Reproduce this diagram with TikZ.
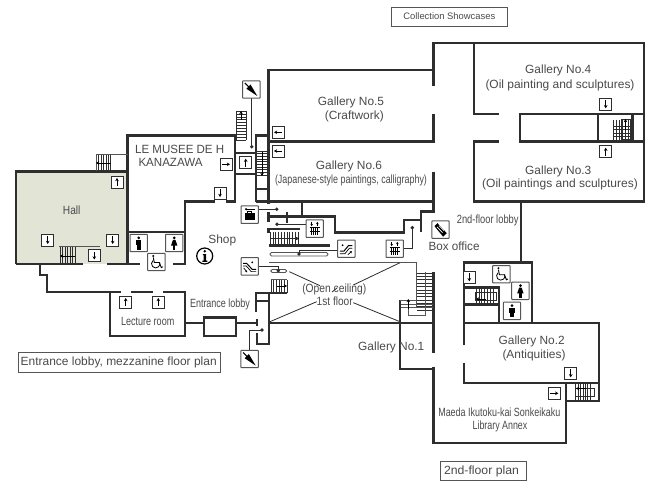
\documentclass[tikz,border=0pt]{standalone}
\usepackage{fontspec}
\setmainfont{Liberation Sans}
\usetikzlibrary{arrows.meta}
\definecolor{wallc}{HTML}{2E2E2E}
\definecolor{txtc}{HTML}{4A4A4A}
\definecolor{hallc}{HTML}{E2E4D6}
\definecolor{thinc}{HTML}{555555}
\newcommand\fitto[2]{\setbox0=\hbox{#2}\pgfmathsetmacro\fitr{#1/\the\wd0}\scalebox{\fitr}[1]{#2}}
\tikzset{
  wall/.style={draw=wallc,line width=2.4pt,line join=miter},
  thinl/.style={draw=thinc,line width=0.9pt},
  conn/.style={draw=wallc,line width=0.8pt},
  rung/.style={draw=wallc,line width=0.55pt},
  lbl/.style={text=txtc,font=\fontsize{11.9}{13}\selectfont,inner sep=0pt},
  ibox/.style={draw=thinc,line width=1pt,rounded corners=0.6pt,fill=white},
  abx/.style={draw=wallc,line width=0.9pt,fill=white},
  arr/.style={draw=black,line width=0.9pt,-{Stealth[length=3.2pt,width=3.6pt]}},
  plan/.style={draw=thinc,line width=0.7pt,fill=white},
  dotc/.style={fill=wallc,draw=none}
}
\newcommand\abox[4]{\draw[abx] ({#1-6},{#2-6}) rectangle ({#1+6},{#2+6});
  \draw[arr] ({#1-4*#3},{#2-4*#4}) -- ({#1+4*#3},{#2+4*#4});}
\newcommand\icon[2]{\draw[ibox] ({#1-8.7},{#2-8.7}) rectangle ({#1+8.7},{#2+8.7});}
\newcommand\man[2]{\icon{#1}{#2}\fill[black] (#1,{#2-5.2}) circle (1.5pt);
  \fill[black] ({#1-2.6},{#2-3}) rectangle ({#1+2.6},{#2+2}); \fill[black] ({#1-1.8},{#2+2}) rectangle ({#1+1.8},{#2+6.5});}
\newcommand\woman[2]{\icon{#1}{#2}\fill[black] (#1,{#2-5.2}) circle (1.5pt);
  \fill[black] ({#1-1.2},{#2-3.2}) -- ({#1+1.2},{#2-3.2}) -- ({#1+3.2},{#2+2.5}) -- ({#1-3.2},{#2+2.5}) -- cycle;
  \fill[black] ({#1-1.2},{#2+2}) rectangle ({#1+1.2},{#2+6.8});}
\newcommand\wheel[2]{\icon{#1}{#2}\fill[black] ({#1-3},{#2-6}) circle (1.1pt);
  \draw[black,line width=0.9pt] ({#1-3},{#2-4.5}) -- ({#1-2},{#2+0.5}) -- ({#1+3},{#2+0.5}) -- ({#1+5},{#2+5.5}) -- ({#1+6.5},{#2+4.8});
  \draw[black,line width=0.8pt] ({#1-3.3},{#2-1.5}) arc[start angle=130,end angle=380,radius=4.2pt];}
\newcommand\umb[2]{\icon{#1}{#2}\fill[black] ({#1-5},{#2-0.8}) -- ({#1-0.8},{#2-5}) -- ({#1+6},{#2+6.5}) -- cycle;
  \draw[black,line width=1pt] ({#1-6.5},{#2-6.5}) -- ({#1-2.5},{#2-2.5});}
\newcommand\ticket[2]{\icon{#1}{#2}\fill[black] ({#1-6},{#2-3.5}) -- ({#1-3},{#2-6.5}) -- ({#1+6.3},{#2+3.5}) -- ({#1+2.6},{#2+7}) -- cycle;
  \draw[white,line width=0.7pt] ({#1-3.5},{#2-2.8}) -- ({#1+2},{#2+3});
  \draw[white,line width=0.7pt] ({#1-1.5},{#2-4}) -- ({#1+3.5},{#2+1});}
\newcommand\elev[2]{\icon{#1}{#2}\foreach \i in {-3.2,-1.1,1.1,3.2}{\draw[black,line width=0.9pt] ({#1+\i},{#2-0.8}) -- ({#1+\i},{#2+6});}
  \draw[black,line width=0.6pt] ({#1-5},{#2-1.2}) -- ({#1+5},{#2-1.2});
  \draw[black,line width=0.6pt] ({#1-5},{#2+2.5}) -- ({#1+5},{#2+2.5});
  \draw[black,line width=0.6pt,-{Stealth[length=2.2pt,width=2.6pt]}] ({#1-3},{#2-6.8}) -- ({#1-3},{#2-2.6});
  \draw[black,line width=0.6pt,-{Stealth[length=2.2pt,width=2.6pt]}] ({#1+2.6},{#2-2.6}) -- ({#1+2.6},{#2-6.8});}
\newcommand\locker[2]{\icon{#1}{#2}\fill[black] ({#1-5},{#2-1.5}) rectangle ({#1+5},{#2+5.8});
  \draw[black,line width=0.8pt] ({#1-2},{#2-1.5}) -- ({#1-2},{#2-3}) -- ({#1+2},{#2-3}) -- ({#1+2},{#2-1.5});
  \draw[black,line width=0.8pt,-{Stealth[length=2.2pt,width=2.6pt]}] ({#1+5},{#2-5.6}) -- ({#1-5},{#2-5.6});}
\newcommand\escup[2]{\icon{#1}{#2}\draw[black,line width=1pt] ({#1-6.5},{#2+2.5}) -- ({#1-2.5},{#2+2.5}) -- ({#1+2},{#2-3}) -- ({#1+6},{#2-3});
  \draw[black,line width=0.7pt] ({#1-6.5},{#2+5}) -- ({#1-1.5},{#2+5}) -- ({#1+3},{#2-0.5}) -- ({#1+6},{#2-0.5});
  \draw[black,line width=0.7pt,-{Stealth[length=2.2pt,width=2.6pt]}] ({#1+1.5},{#2+6}) -- ({#1+5.5},{#2+2.5});
  \fill[black] ({#1-3.8},{#2-3.5}) circle (1pt);}
\newcommand\escdn[2]{\icon{#1}{#2}\draw[black,line width=1pt] ({#1-6.5},{#2-3}) -- ({#1-3},{#2-3}) -- ({#1+2.5},{#2+3}) -- ({#1+6.5},{#2+3});
  \draw[black,line width=0.7pt] ({#1-6.5},{#2-0.5}) -- ({#1-3.5},{#2-0.5}) -- ({#1+1.5},{#2+5.2}) -- ({#1+6.5},{#2+5.2});
  \draw[black,line width=0.7pt,-{Stealth[length=2.2pt,width=2.6pt]}] ({#1-6},{#2+1.5}) -- ({#1-2.5},{#2+6});
  \fill[black] ({#1+2.5},{#2-4}) circle (1pt);}
\newcommand\hrungs[5]{\foreach \i in {0,...,#5}{\draw[rung] ({#1},{#3+\i*(#4-#3)/#5}) -- ({#2},{#3+\i*(#4-#3)/#5});}}
\newcommand\vrungs[5]{\foreach \i in {0,...,#5}{\draw[rung] ({#1+\i*(#2-#1)/#5},{#3}) -- ({#1+\i*(#2-#1)/#5},{#4});}}
\begin{document}
\begin{tikzpicture}[x=1pt,y=-1pt]
\useasboundingbox (0,0) rectangle (653,481);
\fill[white] (0,0) rectangle (653,481);
% hall
\fill[hallc] (16,171.5) rectangle (127.5,264);
% walls
\draw[wall] (16,264) -- (16,171.5) -- (127.5,171.5);
\draw[wall] (16,264) -- (83,264);
\draw[wall] (107,264) -- (140,264);
\draw[wall] (127.5,264) -- (127.5,135.7) -- (235,135.7) -- (235,201.7) -- (226,201.7);
\draw[wall] (215,201.7) -- (185,201.7) -- (185,264) -- (173,264);
\draw[wall] (127.5,232) -- (185,232);
\draw[wall] (40,264) -- (40,275) -- (47,275) -- (47,292) -- (120.7,292);
\draw[wall] (130.7,292) -- (152.7,292);
\draw[wall] (110,292) -- (110,335.7) -- (185,335.7) -- (185,292) -- (162.7,292);
\draw[wall] (185,322.7) -- (204,322.7);
\draw[wall] (204,317.3) rectangle (235.7,335.7);
\draw[wall] (235.7,322.7) -- (256.7,322.7);
\draw[wall] (256.7,319) -- (256.7,326);
\draw[wall] (256,311.7) -- (256,292.7) -- (287,292.7);
\draw[wall] (256,301) -- (269,301);
\draw[wall] (269,292.7) -- (269,344) -- (256.7,344) -- (256.7,333);
\draw[wall] (235,153.3) -- (256,153.3);
\draw[wall] (235,174.3) -- (256,174.3);
\draw[wall] (268.3,135.7) -- (256,135.7) -- (256,201.7);
\draw[wall] (256,189) -- (268.3,189);
% galleries 5,6
\draw[wall] (268.3,204.5) -- (268.3,70) -- (433.3,70);
\draw[wall] (256,201.7) -- (433.3,201.7);
\draw[wall] (268.3,141.5) -- (433.3,141.5) -- (433.3,114);
\draw[wall] (433.3,86) -- (433.3,43.3) -- (644,43.3) -- (644,201.7) -- (474,201.7) -- (474,141.7) -- (499,141.7);
\draw[wall] (474,43.3) -- (474,114) -- (499,114);
\draw[wall] (644,114) -- (520,114) -- (520,141.7) -- (644,141.7);
\draw[wall] (598,114) -- (598,141.7);
\draw[wall] (632.3,114) -- (632.3,141.7);
\draw[wall] (520.7,201.7) -- (520.7,262.3);
\draw[wall] (433.3,171.7) -- (433.3,211.7) -- (420.7,211.7) -- (420.7,231.7);
\draw[wall] (420.7,220) -- (404,220) -- (404,232.5) -- (335,232.5) -- (335,216.7) -- (268.3,216.7);
\draw[wall] (301.7,201.7) -- (301.7,216.7);
\draw[wall] (268.3,211.7) -- (268.3,221.7);
\draw[wall] (287,212) -- (287,223);
\draw[wall] (268.3,233) -- (268.3,229) -- (300,229);
\draw[wall] (268.7,245.5) -- (330,245.5);
% main lower
\draw[wall] (269,322.7) -- (433.3,322.7);
\draw[wall] (400,300) -- (400,369) -- (433.3,369);
\draw[wall] (433.3,272) -- (433.3,352.7);
\draw[wall] (433.3,366.7) -- (433.3,443) -- (565.7,443) -- (565.7,383);
\draw[wall] (464,345) -- (464,262.3) -- (532,262.3) -- (532,322.7);
\draw[wall] (464,322.7) -- (599,322.7) -- (599,401) -- (565.7,401);
\draw[wall] (464,362.7) -- (464,383) -- (599,383);
\draw[wall] (464,287.3) -- (499,287.3) -- (499,322.7);
\draw[wall] (464,304.3) -- (499,304.3);
% open ceiling
\draw[thinl] (269,262.7) -- (416.7,262.7) -- (416.7,308);
\draw[conn] (400,262.7) -- (353.3,285);
\draw[conn] (316.7,301.7) -- (270,321.7);
\draw[conn] (289.3,271.7) -- (320,285.7);
\draw[conn] (353.3,302.7) -- (400,321.7);
\draw[conn] (337,288) -- (332,292);
% right stair
\hrungs{416.7}{433.3}{273}{310}{11}
\draw[thinl] (425.7,272) -- (425.7,315) -- (408.3,315) -- (408.3,300);
\draw[thinl] (400,300) -- (416.7,300);
\draw[thinl] (401,304.3) -- (433.3,304.3);
\draw[thinl] (401,307.7) -- (433.3,307.7);
\draw[arr,line width=0.7pt] (408.3,309) -- (408.3,299);
% stairs
\vrungs{96}{110.7}{154.3}{171}{6}
\draw[thinl] (96,154.3) -- (127.5,154.3);
\draw[thinl] (96,154.3) -- (96,171);
\draw[arr,line width=0.7pt] (110.7,163) -- (96,163);
\vrungs{60}{75}{247}{263}{6}
\draw[thinl,line width=1.2pt] (59.3,246.7) -- (100,246.7);
\draw[arr,line width=0.7pt] (75,256) -- (60,256);
\hrungs{236}{246}{111}{140}{10}
\draw[rung] (236,111) -- (236,140);
\draw[rung] (246,111) -- (246,140);
\draw[arr,line width=0.7pt] (241,120) -- (241,111);
\hrungs{256.7}{268}{151}{175}{9}
\draw[arr,line width=0.7pt] (262,152) -- (262,176);
\vrungs{270}{298}{232}{245}{10}
\draw[arr,line width=0.7pt] (285,238.5) -- (299,238.5);
\draw[rung] (270,238.5) -- (298,238.5);
\vrungs{271}{287}{280}{292.7}{6}
\draw[thinl] (270.7,279.3) -- (287.3,279.3);
\draw[arr,line width=0.7pt] (277,286) -- (287,286);
\vrungs{613}{631}{120}{140}{6}
\hrungs{613}{631}{126}{140}{4}
\draw[rung] (621.7,119) rectangle (630,139.5);
\draw[arr,line width=0.7pt] (625.5,130) -- (625.5,119);
\vrungs{476}{493.3}{288}{303}{6}
\draw[rung] (475,292) rectangle (496,300);
\draw[arr,line width=0.7pt] (486,299) -- (476,299);
\vrungs{575.7}{590}{384}{400}{6}
\draw[rung] (575.7,388) rectangle (594.3,396.7);
\draw[arr,line width=0.7pt] (586,388.5) -- (576,388.5);
% rails
\draw[thinl,fill=white,rounded corners=1.5pt] (270,252.5) rectangle (328,256);
\draw[thinl,fill=white,rounded corners=1.5pt] (270.7,269.5) rectangle (286.7,272.5);
% connectors with dots
\draw[conn] (258,209.3) -- (276.7,209.3); \fill[dotc] (276.7,209.3) circle (1.9pt);
\draw[conn] (306,224.3) -- (277,224.3); \fill[dotc] (277,224.3) circle (1.9pt);
\draw[conn] (337.7,250) -- (299,250) -- (299,254); \fill[dotc] (299,254) circle (1.9pt);
\draw[conn] (258.3,266) -- (278.3,266) -- (278.3,270.7); \fill[dotc] (278.3,270.7) circle (1.9pt);
\draw[conn] (251.7,98) -- (251.7,146.7); \fill[dotc] (251.7,146.7) circle (1.9pt);
\draw[conn] (403.3,248.3) -- (412.3,248.3) -- (412.3,227.7); \fill[dotc] (412.3,227.7) circle (1.9pt);
\draw[conn] (249.3,350) -- (249.3,330) -- (262,330); \fill[dotc] (262,330) circle (1.9pt);
% arrow boxes
\abox{117}{182}{0}{-1}
\abox{47.7}{240}{0}{1}
\abox{112.7}{240}{0}{1}
\abox{94.3}{255.5}{0}{1}
\abox{220}{193}{0}{1}
\abox{226}{164.3}{1}{0}
\abox{245.7}{162.7}{0}{-1}
\abox{278}{132.3}{-1}{0}
\abox{278}{151}{-1}{0}
\abox{125.7}{302}{0}{-1}
\abox{158.3}{302}{0}{-1}
\abox{605.7}{104.3}{0}{1}
\abox{605.7}{151.7}{0}{-1}
\abox{469.3}{277.3}{0}{1}
\abox{570.7}{373.3}{0}{1}
\abox{554.3}{393.3}{1}{0}
% big icons
\umb{251.3}{89.5}
\umb{249.6}{359}
\locker{249.7}{214.7}
\elev{314.7}{228.7}
\elev{394.7}{248.7}
\escup{346.4}{248.7}
\escdn{249.7}{266.4}
\ticket{440.5}{229.7}
\man{138.7}{243}
\woman{174.2}{243}
\wheel{156.3}{262}
\wheel{501.4}{274.2}
\woman{520.4}{290.8}
\man{512}{310.8}
% info
\draw[black,line width=1.2pt,fill=white] (204.7,256) circle (8pt);
\fill[black] (204.7,251.3) circle (1.4pt);
\fill[black] (202.8,254) -- (206,254) -- (206,260.5) -- (207.3,260.5) -- (207.3,261.8) -- (202.3,261.8) -- (202.3,260.5) -- (203.6,260.5) -- (203.6,255.2) -- (202.8,255.2) -- cycle;
% labels
\node[lbl] (hall) at (71.7,210.3) {\fitto{17.5}{Hall}};
\node[lbl,anchor=west] (musee) at (135,149.3) {\fitto{89}{LE MUSEE DE H}};
\node[lbl,anchor=west] (kana) at (138.3,162.3) {\fitto{64}{KANAZAWA}};
\node[lbl] (shop) at (222.3,240) {Shop};
\node[lbl] (g5) at (351,102.7) {Gallery No.5};
\node[lbl] (g5b) at (354.3,116.7) {(Craftwork)};
\node[lbl] (g6) at (349,166.7) {Gallery No.6};
\node[lbl] (g6b) at (351,180.7) {\fitto{152}{(Japanese-style paintings, calligraphy)}};
\node[lbl] (g4) at (558.3,70.7) {Gallery No.4};
\node[lbl] (g4b) at (560,85) {\fitto{149}{(Oil painting and sculptures)}};
\node[lbl] (g3) at (558.3,171) {Gallery No.3};
\node[lbl] (g3b) at (560,184) {\fitto{155.7}{(Oil paintings and sculptures)}};
\node[lbl] (lobby2) at (487.7,220) {\fitto{61.7}{2nd-floor lobby}};
\node[lbl] (box) at (454,246.7) {\fitto{51}{Box office}};
\node[lbl] (g2) at (531.7,341.7) {Gallery No.2};
\node[lbl] (g2b) at (534,355.7) {\fitto{63}{(Antiquities)}};
\node[lbl] (g1) at (391.3,347.7) {Gallery No.1};
\node[lbl] (mae) at (499.3,412) {\fitto{122}{Maeda Ikutoku-kai Sonkeikaku}};
\node[lbl] (lib) at (500,426) {\fitto{54.7}{Library Annex}};
\node[lbl] (lect) at (147.7,321) {\fitto{53.3}{Lecture room}};
\node[lbl] (ent) at (220,304) {\fitto{60}{Entrance lobby}};
\node[lbl] (open) at (334.3,289.3) {\fitto{64}{(Open ceiling)}};
\node[lbl] (first) at (334.7,301.7) {\fitto{36}{1st floor}};
% plan titles
\draw[plan] (18.3,352.3) rectangle (220,372.3);
\node[lbl] (t1) at (118.7,362.3) {\fitto{196}{Entrance lobby, mezzanine floor plan}};
\draw[plan] (391.7,7) rectangle (507,26);
\node[lbl,font=\fontsize{9.4}{11}\selectfont] (t2) at (449.3,16.5) {Collection Showcases};
\draw[plan] (440,461) rectangle (526,480.3);
\node[lbl] (t3) at (481.5,471) {\fitto{75}{2nd-floor plan}};
\end{tikzpicture}
\end{document}
